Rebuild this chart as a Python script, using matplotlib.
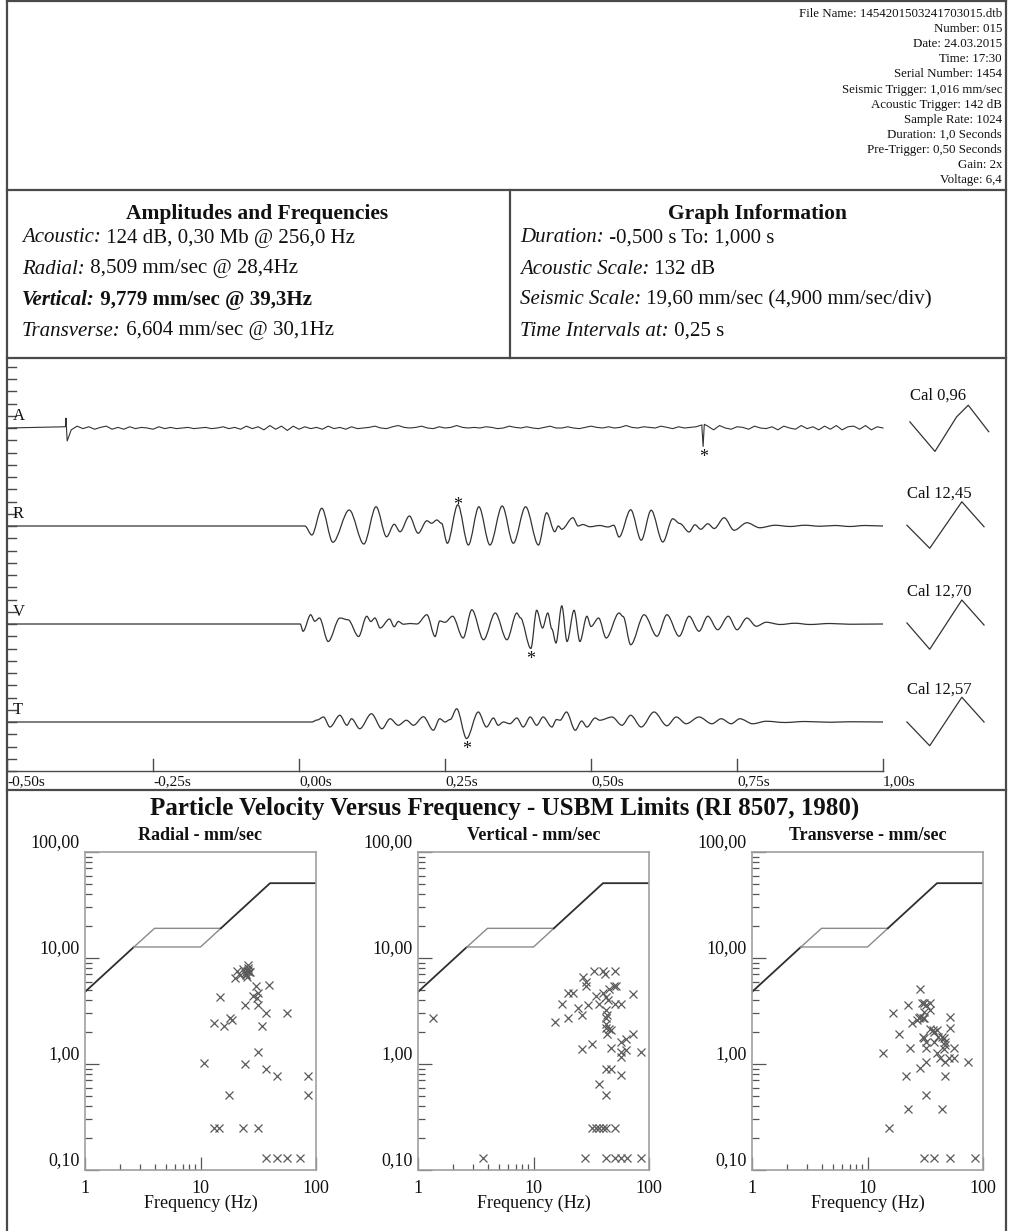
import numpy as np
import matplotlib
matplotlib.use("Agg")
import matplotlib.pyplot as plt
from matplotlib.path import Path
from matplotlib.patches import PathPatch

plt.rcParams["font.family"] = ["Liberation Serif", "DejaVu Serif"]
plt.rcParams["text.color"] = "#111111"

# ---------------- event record ----------------
HEADER_LINES = [
    "File Name: 1454201503241703015.dtb",
    "Number: 015",
    "Date: 24.03.2015",
    "Time: 17:30",
    "Serial Number: 1454",
    "Seismic Trigger: 1,016 mm/sec",
    "Acoustic Trigger: 142 dB",
    "Sample Rate: 1024",
    "Duration: 1,0 Seconds",
    "Pre-Trigger: 0,50 Seconds",
    "Gain: 2x",
    "Voltage: 6,4",
]

AMP_TITLE = "Amplitudes and Frequencies"
AMP_LABELS = ["Acoustic:", "Radial:", "Vertical:", "Transverse:"]
AMP_VALUES = ["124 dB, 0,30 Mb @ 256,0 Hz", "8,509 mm/sec @ 28,4Hz",
              "9,779 mm/sec @ 39,3Hz", "6,604 mm/sec @ 30,1Hz"]
GRAPH_TITLE = "Graph Information"
GRAPH_LABELS = ["Duration:", "Acoustic Scale:", "Seismic Scale:", "Time Intervals at:"]
GRAPH_VALUES = ["-0,500 s To: 1,000 s", "132 dB",
                "19,60 mm/sec (4,900 mm/sec/div)", "0,25 s"]

# ---------------- waveforms ----------------
T_START, T_END = -0.5, 1.0
TIME_TICKS = [-0.5, -0.25, 0.0, 0.25, 0.5, 0.75, 1.0]
SEISMIC_SCALE = 19.60        # mm/s, half a channel band
SEISMIC_DIV = 4.900          # mm/s per division
ACOUSTIC_SCALE_MB = 0.796    # 132 dB expressed in mb

CHANNELS = ["A", "R", "V", "T"]
CAL_VALUES = [0.96, 12.45, 12.70, 12.57]

# acoustic pressure (mb), sampled every 10 ms from -0.40 s
A_grid_t = np.linspace(-0.40, 1.00, 141)
A_grid_mb = [
    0.02, -0.03, 0.03, -0.01, 0.02, -0.02, 0.01, 0.03, -0.02, 0.01,
    -0.02, 0.02, -0.01, 0.01, 0.00, -0.02, 0.02, -0.01, 0.01, -0.01,
    0.00, 0.01, -0.01, 0.00, 0.01, -0.01, 0.00, 0.02, -0.01, 0.01,
    -0.02, 0.03, -0.01, 0.02, -0.03, 0.04, -0.02, 0.03, -0.04, 0.03,
    -0.02, 0.02, -0.01, 0.01, -0.02, 0.03, -0.01, 0.01, -0.02, 0.02,
    -0.01, 0.00, 0.01, 0.03, 0.00, -0.01, 0.02, 0.04, 0.01, 0.00,
    0.01, 0.03, 0.00, -0.01, 0.02, 0.00, 0.01, 0.04, 0.01, 0.00,
    0.01, 0.00, 0.02, 0.01, -0.01, 0.00, 0.03, 0.01, 0.00, 0.02,
    0.00, -0.01, 0.01, 0.03, 0.00, 0.00, 0.02, 0.00, -0.01, 0.01,
    0.03, 0.01, 0.00, 0.02, 0.00, 0.01, 0.04, 0.01, 0.00, 0.02,
    0.01, 0.00, 0.03, 0.01, -0.01, 0.02, 0.00, 0.01, 0.02, 0.00,
    0.03, -0.03, 0.04, 0.00, -0.02, 0.02, 0.01, -0.02, 0.03, 0.00,
    -0.01, 0.02, -0.03, 0.03, 0.00, -0.02, 0.04, -0.01, 0.02, -0.03,
    0.03, -0.02, 0.04, -0.03, 0.02, 0.03, -0.02, 0.04, -0.03, 0.02,
    0.00,
]
A_spike_t = [-0.399, -0.397, 0.690, 0.692, 0.694]
A_spike_mb = [0.16, -0.21, 0.05, -0.30, 0.06]

# seismic traces: turning points (s, mm/s)
R_t = [0.000, 0.010, 0.022, 0.039, 0.058, 0.086, 0.111, 0.132, 0.150, 0.163,
       0.173, 0.189, 0.204, 0.219, 0.227, 0.236, 0.244, 0.254, 0.272, 0.290,
       0.308, 0.327, 0.348, 0.367, 0.388, 0.410, 0.424, 0.438, 0.444, 0.450,
       0.469, 0.478, 0.486, 0.498, 0.515, 0.529, 0.539, 0.548, 0.568, 0.586,
       0.603, 0.623, 0.640, 0.652, 0.668, 0.678, 0.688, 0.700, 0.711, 0.728,
       0.745, 0.767, 0.789, 0.815, 0.841, 0.866, 0.892, 0.918, 0.943, 0.969,
       1.000]
R_v = [0.0, 0.0, -3.6, 7.1, -6.5, 6.4, -7.2, 7.7, -4.3, 0.7,
       -2.3, 4.0, -2.9, 2.1, 1.1, 2.4, 1.1, -6.9, 8.509, -7.6,
       7.7, -7.6, 8.0, -6.9, 7.7, -7.6, 5.3, -2.3, 0.0, -1.3,
       3.3, 0.0, 0.6, -0.3, 0.2, -0.4, 0.3, -4.4, 6.5, -5.7,
       6.3, -6.4, 2.9, 1.0, -2.4, 0.5, -1.3, 0.9, -1.0, 3.3,
       -1.7, 1.3, -0.7, 0.3, -0.2, 0.3, -0.1, 0.2, -0.2, 0.2,
       0.0]

V_t = [0.000, 0.002, 0.007, 0.020, 0.027, 0.035, 0.050, 0.070, 0.084, 0.102,
       0.116, 0.123, 0.130, 0.139, 0.155, 0.163, 0.170, 0.179, 0.190, 0.202,
       0.219, 0.233, 0.241, 0.250, 0.263, 0.281, 0.296, 0.316, 0.336, 0.356,
       0.373, 0.379, 0.397, 0.407, 0.417, 0.426, 0.433, 0.440, 0.450, 0.459,
       0.471, 0.481, 0.493, 0.500, 0.513, 0.526, 0.548, 0.555, 0.568, 0.591,
       0.613, 0.630, 0.651, 0.668, 0.685, 0.700, 0.717, 0.735, 0.750, 0.767,
       0.783, 0.800, 0.824, 0.849, 0.875, 0.909, 0.943, 1.000]
V_v = [0.0, 0.0, -2.9, 3.7, 1.1, 2.4, -7.0, 2.4, 1.7, -5.0,
       3.1, 1.0, 2.4, -1.6, 2.0, -1.1, 1.0, -0.1, 0.2, 0.0,
       3.7, -5.0, 1.2, 0.7, 3.1, -5.6, 5.7, -6.3, 4.4, -6.3,
       4.4, 2.5, -9.779, 5.5, -1.6, 4.4, -2.0, -7.6, 7.3, -7.0,
       5.5, -7.0, 3.1, -1.0, 2.4, -5.6, 4.4, 3.0, -8.3, 3.7,
       -4.9, 3.7, -4.9, 3.1, -2.9, 3.1, -2.3, 3.1, -2.3, 2.4,
       -0.9, 0.7, -0.2, 0.3, -0.2, 0.2, -0.1, 0.0]

T_t = [0.000, 0.022, 0.031, 0.042, 0.053, 0.070, 0.082, 0.090, 0.104, 0.124,
       0.142, 0.156, 0.170, 0.184, 0.196, 0.213, 0.230, 0.241, 0.250, 0.259,
       0.270, 0.287, 0.307, 0.321, 0.333, 0.341, 0.350, 0.361, 0.373, 0.384,
       0.396, 0.407, 0.418, 0.433, 0.441, 0.447, 0.458, 0.473, 0.484, 0.493,
       0.507, 0.515, 0.536, 0.553, 0.568, 0.586, 0.608, 0.630, 0.646, 0.663,
       0.685, 0.707, 0.723, 0.740, 0.755, 0.777, 0.800, 0.832, 0.866, 0.909,
       0.943, 1.000]
T_v = [0.0, 0.0, 0.8, 2.0, -2.0, 2.7, -1.3, 1.3, -2.7, 3.3,
       -2.7, 1.3, -1.3, 0.7, -1.3, 2.1, -3.3, 1.3, 0.0, 1.0,
       5.3, -6.604, 4.0, -2.0, 1.6, -1.3, 0.0, -0.7, 1.6, -2.0,
       2.0, -1.3, 2.0, -2.0, 1.0, 0.7, 4.0, -3.3, 0.4, -2.0,
       1.6, 0.7, 2.0, -1.3, 2.7, -2.0, 4.0, -1.5, 2.0, -0.7,
       2.0, -0.7, 1.3, -0.7, 1.3, -0.7, 0.3, -0.2, 0.2, -0.1,
       0.1, 0.0]

# calibration pulses drawn after the record (time s, amplitude)
CAL_A_t = [1.046, 1.089, 1.126, 1.146, 1.181]
CAL_A_mb = [0.10, -0.38, 0.18, 0.37, -0.06]
CAL_t = [1.041, 1.080, 1.135, 1.173]
CAL_R = [0.3, -8.9, 9.7, -0.3]
CAL_V = [0.4, -10.1, 9.6, -0.4]
CAL_T = [0.0, -9.5, 9.9, 0.0]

# ---------------- particle velocity vs frequency ----------------
RADIAL_F = [10.7, 13.1, 14.8, 14.4, 13.1, 16.0, 18.0, 18.8, 17.5, 19.9,
            20.8, 21.9, 23.2, 25.2, 24.5, 25.8, 26.3, 25.0, 26.0, 24.8,
            25.5, 26.8, 25.9, 24.3, 24.3, 23.2, 30.2, 28.7, 31.5, 30.9,
            31.5, 39.4, 36.6, 33.8, 31.5, 36.6, 46.3, 31.5, 56.4, 85.8,
            85.8, 36.6, 46.3, 56.4, 72.7]
RADIAL_V = [1.03, 2.44, 4.3, 0.25, 0.25, 2.3, 2.7, 2.6, 0.51, 6.5,
            7.5, 6.85, 7.9, 7.6, 7.2, 8.0, 7.4, 6.9, 7.7, 7.0,
            6.6, 7.3, 8.5, 3.6, 1.0, 0.25, 5.5, 4.4, 4.7, 4.2,
            3.6, 5.6, 3.0, 2.3, 1.3, 0.9, 0.77, 0.25, 3.0, 0.77,
            0.51, 0.13, 0.13, 0.13, 0.13]

VERTICAL_F = [1.35, 15.5, 17.6, 19.7, 21.8, 19.7, 24.1, 26.5, 26.9, 28.3,
              28.7, 29.9, 26.5, 31.8, 28.0, 32.4, 34.7, 37.1, 39.6, 42.4,
              50.9, 3.69, 33.6, 39.6, 41.2, 50.9, 34.7, 39.6, 42.4, 37.1,
              45.2, 49.9, 51.5, 44.4, 50.9, 57.1, 42.4, 42.4, 42.4, 43.5,
              42.4, 44.8, 46.8, 43.5, 46.8, 42.4, 46.8, 37.1, 42.4, 57.1,
              57.1, 57.1, 63.0, 63.0, 72.9, 72.9, 57.1, 85.0, 42.4, 50.9,
              57.1, 64.0, 85.0]
VERTICAL_V = [2.7, 2.5, 3.7, 4.7, 4.7, 2.7, 3.4, 2.9, 6.6, 6.0,
              5.5, 3.6, 1.4, 1.55, 0.13, 0.25, 0.25, 0.25, 0.25, 0.25,
              0.25, 0.13, 7.6, 7.6, 7.1, 7.6, 4.4, 4.7, 4.3, 3.7,
              5.1, 5.45, 5.4, 4.0, 3.7, 3.7, 3.2, 2.7, 2.4, 2.9,
              2.2, 2.15, 2.1, 1.9, 1.42, 0.9, 0.9, 0.65, 0.51, 1.61,
              1.30, 1.16, 1.71, 1.37, 1.93, 4.6, 0.78, 1.30, 0.13, 0.13,
              0.13, 0.13, 0.13]

TRANSVERSE_F = [13.6, 15.5, 16.6, 18.6, 21.7, 22.4, 22.4, 23.5, 24.2, 26.8,
                28.7, 28.7, 27.8, 28.7, 29.7, 30.6, 31.9, 31.1, 31.1, 30.3,
                30.0, 31.1, 31.9, 31.9, 31.9, 31.9, 35.0, 35.0, 35.0, 37.0,
                38.0, 39.8, 40.9, 37.7, 39.8, 42.2, 44.3, 45.5, 47.1, 47.1,
                45.9, 44.3, 47.1, 47.1, 52.1, 52.1, 50.5, 56.6, 56.6, 74.1,
                30.6, 37.7, 52.1, 85.8]
TRANSVERSE_V = [1.28, 0.25, 3.05, 1.93, 0.77, 0.38, 3.6, 1.42, 2.45, 2.58,
                5.13, 2.8, 2.7, 0.92, 3.8, 3.8, 3.6, 3.1, 2.7, 2.7,
                1.8, 1.75, 1.6, 1.42, 1.05, 0.51, 3.8, 3.2, 2.15, 2.1,
                2.0, 2.1, 1.8, 1.61, 1.28, 1.15, 1.8, 1.75, 1.6, 1.5,
                1.4, 0.38, 0.77, 1.05, 2.8, 2.2, 1.15, 1.15, 1.42, 1.05,
                0.13, 0.13, 0.13, 0.13]

# USBM RI 8507 limit curve (Hz, mm/s)
USBM_LOW_F, USBM_LOW_V = [1.0, 2.65], [4.79, 12.7]
USBM_DRYWALL_F, USBM_DRYWALL_V = [2.65, 4.0, 15.0], [12.7, 19.05, 19.05]
USBM_PLASTER_F, USBM_PLASTER_V = [2.65, 10.0, 15.0], [12.7, 12.7, 19.05]
USBM_HIGH_F, USBM_HIGH_V = [15.0, 40.0, 100.0], [19.05, 50.8, 50.8]

PLOT_TITLE = "Particle Velocity Versus Frequency - USBM Limits (RI 8507, 1980)"
PANEL_TITLES = ["Radial - mm/sec", "Vertical - mm/sec", "Transverse - mm/sec"]
Y_TICKS = [0.1, 1.0, 10.0, 100.0]
X_TICKS = [1, 10, 100]


def comma(v, nd):
    return f"{v:.{nd}f}".replace(".", ",")


def smooth_trace(ax, t, v, **kw):
    """Draw a trace through its turning points with flat-tangent Bezier arcs."""
    t = np.asarray(t, float)
    v = np.asarray(v, float)
    verts = [(t[0], v[0])]
    codes = [Path.MOVETO]
    for i in range(len(t) - 1):
        dt = (t[i + 1] - t[i]) / 3.0
        verts += [(t[i] + dt, v[i]), (t[i + 1] - dt, v[i + 1]), (t[i + 1], v[i + 1])]
        codes += [Path.CURVE4] * 3
    ax.add_patch(PathPatch(Path(verts, codes), fill=False, **kw))


# ---------------- figure ----------------
W, H = 1009, 1231
fig = plt.figure(figsize=(W / 100, H / 100), dpi=100)
FRAME = "#4a4a4a"
INK = "#333333"

page = fig.add_axes([0, 0, 1, 1])
page.set_xlim(0, W)
page.set_ylim(H, 0)
page.axis("off")

# page frame and section rules
page.plot([7, 7], [1, H], color=FRAME, lw=1.6)
page.plot([1006, 1006], [1, H], color=FRAME, lw=1.6)
for y in (1, 190, 358, 790):
    page.plot([7, 1006], [y, y], color=FRAME, lw=1.6)
page.plot([510, 510], [190, 358], color=FRAME, lw=1.6)

# header block
for i, line in enumerate(HEADER_LINES):
    page.text(1002, 14 + i * 15.1, line, ha="right", va="center", fontsize=9.3)


def styled_line(x, y, label, value, bold=False, size=15):
    lab = page.text(x, y, label, fontsize=size, style="italic",
                    fontweight="bold" if bold else "normal", va="center", ha="left")
    page.annotate(" " + value, xy=(1, 0.5), xycoords=lab, va="center", ha="left",
                  fontsize=size, fontweight="bold" if bold else "normal")


page.text(257, 214, AMP_TITLE, ha="center", va="center", fontsize=15.5, fontweight="bold")
page.text(758, 214, GRAPH_TITLE, ha="center", va="center", fontsize=15.5, fontweight="bold")
row_y = [238, 269, 300, 331]
for i in range(4):
    styled_line(22, row_y[i], AMP_LABELS[i], AMP_VALUES[i], bold=(AMP_LABELS[i] == "Vertical:"))
    styled_line(520, row_y[i], GRAPH_LABELS[i], GRAPH_VALUES[i])

# ---------------- waveform panel ----------------
PX_T0, PX_PER_S, PX_PER_UNIT, A_ROW_PX = 299.0, 584.0, 2.5, 428.0
wav = fig.add_axes([0, (H - 790) / H, 1, (790 - 358) / H])
wav.set_xlim((0 - PX_T0) / PX_PER_S, (W - PX_T0) / PX_PER_S)
wav.set_ylim(-(790 - A_ROW_PX) / PX_PER_UNIT, (A_ROW_PX - 358) / PX_PER_UNIT)
wav.axis("off")
wav.patch.set_alpha(0)

band = 2 * SEISMIC_SCALE
offsets = [-k * band for k in range(4)]
axis_y = offsets[-1] - SEISMIC_SCALE

# division ticks along the left edge
k = 0
while True:
    y = axis_y + k * SEISMIC_DIV
    if y > 25:
        break
    wav.axhline(y, xmin=7 / W, xmax=16 / W, color=FRAME, lw=1.0)
    k += 1

# time axis
wav.plot([T_START, T_END], [axis_y, axis_y], color=FRAME, lw=1.0)
for t in TIME_TICKS:
    wav.plot([t, t], [axis_y, axis_y + 12 / PX_PER_UNIT], color=FRAME, lw=1.0)
    wav.text(t, axis_y - 11 / PX_PER_UNIT, comma(t, 2) + "s", ha="left", va="center",
             fontsize=11)

a_factor = SEISMIC_SCALE / ACOUSTIC_SCALE_MB
a_t = np.concatenate([[T_START], A_grid_t, A_spike_t])
a_v = np.concatenate([[0.0], A_grid_mb, A_spike_mb]) * a_factor
order = np.argsort(a_t)
a_t, a_v = a_t[order], a_v[order]

traces = [
    (a_t, a_v),
    (np.concatenate([[T_START], R_t]), np.concatenate([[0.0], R_v])),
    (np.concatenate([[T_START], V_t]), np.concatenate([[0.0], V_v])),
    (np.concatenate([[T_START], T_t]), np.concatenate([[0.0], T_v])),
]
cals = [
    (CAL_A_t, np.array(CAL_A_mb) * a_factor),
    (CAL_t, np.array(CAL_R)),
    (CAL_t, np.array(CAL_V)),
    (CAL_t, np.array(CAL_T)),
]

for n, (ch, off, (tt, vv), (ct, cv), cal) in enumerate(
        zip(CHANNELS, offsets, traces, cals, CAL_VALUES)):
    if n == 0:
        wav.plot(tt, off + vv, color=INK, lw=0.8)
    else:
        smooth_trace(wav, tt, off + vv, edgecolor=INK, lw=0.9)
    wav.plot(ct, off + cv, color=INK, lw=0.9)
    wav.annotate(ch, xy=(T_START, off + SEISMIC_DIV), xytext=(4, 0),
                 textcoords="offset points", va="center", ha="left", fontsize=12)
    wav.text(ct[0], off + 12.8, "Cal " + comma(cal, 2), ha="left", va="center",
             fontsize=12)
    # peak marker
    i = int(np.argmax(np.abs(vv)))
    up = vv[i] > 0
    wav.annotate("*", xy=(tt[i], off + vv[i]), xytext=(0, -3.7 if up else -11.1),
                 textcoords="offset points", ha="center", va="baseline", fontsize=13)

# ---------------- USBM panels ----------------
page.text(505, 808, PLOT_TITLE, ha="center", va="center", fontsize=18, fontweight="bold")

panel_left = [85, 418, 752]
panel_w, panel_top, panel_bot = 231, 852, 1170
datasets = [(RADIAL_F, RADIAL_V), (VERTICAL_F, VERTICAL_V), (TRANSVERSE_F, TRANSVERSE_V)]

for left, title, (fx, vy) in zip(panel_left, PANEL_TITLES, datasets):
    ax = fig.add_axes([left / W, (H - panel_bot) / H, panel_w / W,
                       (panel_bot - panel_top) / H])
    ax.set_xscale("log")
    ax.set_yscale("log")
    ax.set_xlim(1, 100)
    ax.set_ylim(0.1, 100)
    for s in ax.spines.values():
        s.set_color("#a0a0a0")
        s.set_linewidth(1.2)

    ax.set_xticks(X_TICKS)
    ax.set_xticks(list(range(2, 10)), minor=True)
    ax.set_yticks(Y_TICKS)
    ax.set_yticks([m * d for d in (0.1, 1, 10) for m in range(2, 10)], minor=True)
    ax.tick_params(which="both", direction="in", colors="#555555", width=0.9,
                   labelbottom=False, labelleft=False, top=False, right=False)
    ax.tick_params(axis="y", which="major", length=10)
    ax.tick_params(axis="y", which="minor", length=5)
    ax.tick_params(axis="x", which="major", length=9.5)
    ax.tick_params(axis="x", which="minor", length=4.5)

    for v in Y_TICKS:
        ax.annotate(comma(v, 2), xy=(0, v), xycoords=("axes fraction", "data"),
                    xytext=(-3.6, 6.5), textcoords="offset points",
                    ha="right", va="center", fontsize=13)
    for f in X_TICKS:
        ax.annotate(str(f), xy=(f, 0), xycoords=("data", "axes fraction"),
                    xytext=(0, -13), textcoords="offset points",
                    ha="center", va="center", fontsize=13)
    ax.annotate("Frequency (Hz)", xy=(0.5, 0), xycoords="axes fraction",
                xytext=(0, -24), textcoords="offset points",
                ha="center", va="center", fontsize=13)
    ax.annotate(title, xy=(0.5, 1), xycoords="axes fraction",
                xytext=(0, 12), textcoords="offset points",
                ha="center", va="center", fontsize=13, fontweight="bold")

    ax.plot(USBM_LOW_F, USBM_LOW_V, color="#2e2e2e", lw=1.3)
    ax.plot(USBM_DRYWALL_F, USBM_DRYWALL_V, color="#8a8a8a", lw=1.0)
    ax.plot(USBM_PLASTER_F, USBM_PLASTER_V, color="#8a8a8a", lw=1.0)
    ax.plot(USBM_HIGH_F, USBM_HIGH_V, color="#2e2e2e", lw=1.3)

    ax.plot(fx, vy, linestyle="none", marker="x", ms=6, mew=0.9, color="#5a5a5a")

fig.savefig("out.png", dpi=100)
